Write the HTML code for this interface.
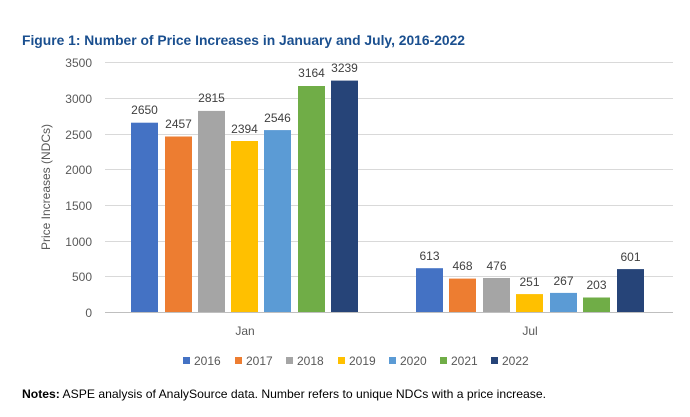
<!DOCTYPE html>
<html><head><meta charset="utf-8"><style>body{margin:0;background:#fff}svg{display:block}</style></head><body>
<svg width="690" height="417" xmlns="http://www.w3.org/2000/svg" font-family="Liberation Sans, sans-serif">
<rect width="690" height="417" fill="#fff"/>
<text x="22" y="45" font-size="14" font-weight="bold" fill="#1a4f8f" textLength="443" lengthAdjust="spacingAndGlyphs">Figure 1: Number of Price Increases in January and July, 2016-2022</text>
<g stroke="#d9d9d9" stroke-width="1">
<line x1="105" x2="673" y1="62.5" y2="62.5"/><line x1="105" x2="673" y1="98.5" y2="98.5"/><line x1="105" x2="673" y1="134.5" y2="134.5"/><line x1="105" x2="673" y1="169.5" y2="169.5"/><line x1="105" x2="673" y1="205.5" y2="205.5"/><line x1="105" x2="673" y1="241.5" y2="241.5"/><line x1="105" x2="673" y1="276.5" y2="276.5"/>
</g>
<g font-size="12" fill="#595959" text-anchor="end">
<text x="92" y="67">3500</text><text x="92" y="103">3000</text><text x="92" y="139">2500</text><text x="92" y="174">2000</text><text x="92" y="210">1500</text><text x="92" y="246">1000</text><text x="92" y="281">500</text><text x="92" y="317">0</text>
</g>
<text transform="translate(50,187) rotate(-90)" font-size="12" fill="#595959" text-anchor="middle">Price Increases (NDCs)</text>
<g>
<rect x="131" y="122.7" width="27" height="189.3" fill="#4472c4"/>
<rect x="165" y="136.5" width="27" height="175.5" fill="#ed7d31"/>
<rect x="198" y="110.9" width="27" height="201.1" fill="#a5a5a5"/>
<rect x="231" y="141" width="27" height="171" fill="#ffc000"/>
<rect x="264" y="130.1" width="27" height="181.9" fill="#5b9bd5"/>
<rect x="298" y="86" width="27" height="226" fill="#70ad47"/>
<rect x="331" y="80.6" width="27" height="231.4" fill="#264478"/>
<rect x="416" y="268.2" width="27" height="43.8" fill="#4472c4"/>
<rect x="449" y="278.6" width="27" height="33.4" fill="#ed7d31"/>
<rect x="483" y="278" width="27" height="34" fill="#a5a5a5"/>
<rect x="516" y="294.1" width="27" height="17.9" fill="#ffc000"/>
<rect x="550" y="292.9" width="27" height="19.1" fill="#5b9bd5"/>
<rect x="583" y="297.5" width="27" height="14.5" fill="#70ad47"/>
<rect x="617" y="269.1" width="27" height="42.9" fill="#264478"/>
</g>
<line x1="105" x2="673" y1="312.5" y2="312.5" stroke="#bfbfbf"/>
<g font-size="12" fill="#404040" text-anchor="middle">
<text x="144.5" y="114">2650</text><text x="178.5" y="128">2457</text><text x="211.5" y="102">2815</text><text x="244.5" y="133">2394</text><text x="277.5" y="122">2546</text><text x="311.5" y="77">3164</text><text x="344.5" y="72">3239</text>
<text x="429.5" y="260">613</text><text x="462.5" y="270">468</text><text x="496.5" y="270">476</text><text x="529.5" y="286">251</text><text x="563.5" y="285">267</text><text x="596.5" y="289">203</text><text x="630.5" y="261">601</text>
</g>
<g font-size="12" fill="#595959" text-anchor="middle"><text x="245" y="335">Jan</text><text x="530" y="335">Jul</text></g>
<g font-size="12" fill="#595959">
<rect x="183" y="357" width="7" height="7" fill="#4472c4"/><text x="194" y="365">2016</text>
<rect x="235" y="357" width="7" height="7" fill="#ed7d31"/><text x="246" y="365">2017</text>
<rect x="286" y="357" width="7" height="7" fill="#a5a5a5"/><text x="297" y="365">2018</text>
<rect x="338" y="357" width="7" height="7" fill="#ffc000"/><text x="349" y="365">2019</text>
<rect x="389" y="357" width="7" height="7" fill="#5b9bd5"/><text x="400" y="365">2020</text>
<rect x="440" y="357" width="7" height="7" fill="#70ad47"/><text x="451" y="365">2021</text>
<rect x="491" y="357" width="7" height="7" fill="#264478"/><text x="502" y="365">2022</text>
</g>
<text x="22" y="398" font-size="12" fill="#000" textLength="524" lengthAdjust="spacingAndGlyphs"><tspan font-weight="bold">Notes:</tspan> ASPE analysis of AnalySource data. Number refers to unique NDCs with a price increase.</text>
</svg>
</body></html>
